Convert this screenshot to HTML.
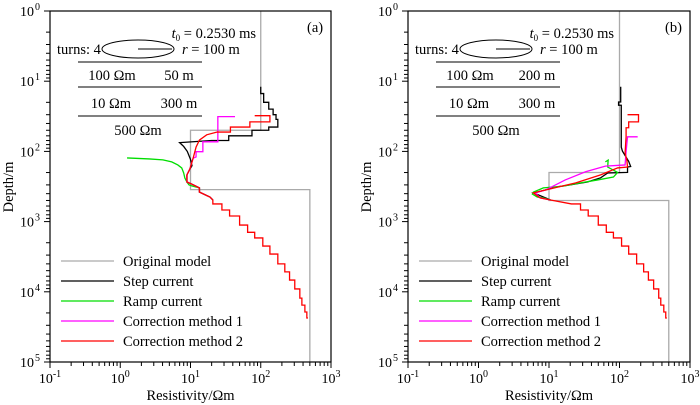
<!DOCTYPE html>
<html><head><meta charset="utf-8">
<style>
html,body{margin:0;padding:0;background:#fff;}
svg{display:block;font-family:"Liberation Serif",serif;}
</style></head>
<body>
<svg id="chart" width="700" height="405" viewBox="0 0 700 405" xmlns="http://www.w3.org/2000/svg"></svg>
<script>
// ---- data (rho in Ωm, depth in m) ----
const xTickLabels = ["-1","0","1","2","3"];
const yTickLabels = ["0","1","2","3","4","5"];
const legendLabels = ["Original model","Step current","Ramp current","Correction method 1","Correction method 2"];
const seriesColors = ["#aaaaaa","#000000","#00dd00","#ff00ff","#ff0000"];

const lowerRho   = [20.8,28,28,36,36,50,50,65,65,82,82,107,107,135,135,175,175,220,220,257,257,305,305,360,360,385,385,425,425,453,453,470];
const lowerDepth = [560,560,684,684,832,832,1120,1120,1420,1420,1710,1710,2230,2230,2900,2900,4000,4000,5200,5200,6800,6800,9100,9100,12300,12300,15500,15500,19400,19400,23600,23600];

// panel a
const aOrigRho   = [100,100,10,10,500,500];
const aOrigDepth = [1,50,50,350,350,100000];
const aStepRho   = [100,100,110,110,130,130,150,150,165,165,175,175,130,130,75,75,35,35,20,7,8,9,10,10.5,9.8,8.9,8.9,10.4,13.4,13.4,18.9,20.8];
const aStepDepth = [12,15,15,20,20,25,25,30,30,35,35,45,45,50,50,60,60,70,70,75,85,100,130,160,178,216,273,292,331,380,446,492];
const aRampRho   = [1.25,2.6,4.05,5.4,6.6,7.5,8.0,8.3,8.9,9.5,10.4,13.4,13.4,18.9,20.8];
const aRampDepth = [124,128,132,141,156,172,203,239,273,300,310,331,380,446,492];
const aCor1Rho   = [43,24.5,24.5,15,15,12,12,10.9,9.8,8.9,8.9,10.4,13.4,13.4,18.9,20.8];
const aCor1Depth = [32,32,73,73,101,101,120,125,178,216,273,292,331,380,446,492];
const aCor2Rho   = [82,135,135,70,70,37,37,24,17,13.4,12,10.9,9.8,8.9,8.9,10.4,13.4,13.4,18.9,20.8];
const aCor2Depth = [31,31,38,38,45,45,53,53,58,69,87,125,178,216,273,292,331,380,446,492];

// panel b
const bOrigRho   = [100,100,10,10,500,500];
const bOrigDepth = [1,200,200,500,500,100000];
const bStepRho   = [104,104,97,97,106,106,110,135,144,130,130,68,54,35,20,13,6.8,6,9,10.5];
const bStepDepth = [12,19.8,19.8,22,22,87,99,139,164,167,199,203,238,273,300,320,380,390,460,492];
const bRampRho   = [63,69,68,94,82,49,28,16,8.3,6.0,5.8,6.8,8.3,10.5];
const bRampDepth = [141,133,167,199,232,255,281,312,331,380,405,446,460,492];
const bCor1Rho   = [181,130,124,120,63,33,17,8.9,6.4,7.5,10.5];
const bCor1Depth = [62,62,101,156,162,195,255,355,390,460,492];
const bCor2Rho   = [130,186,186,135,135,124,124,120,127,130,94,54,24,8.9,6,7.5,10.5];
const bCor2Depth = [30,30,38,38,46,46,62,105,133,167,172,216,281,355,390,460,492];

// ---- drawing ----
const NS="http://www.w3.org/2000/svg";
const svg=document.getElementById('chart');
function mk(tag,attrs,parent){const e=document.createElementNS(NS,tag);for(const k in attrs)e.setAttribute(k,attrs[k]);(parent||svg).appendChild(e);return e;}
const TOP=11,BOT=362,XMIN=-1,XMAX=3,YMIN=0,YMAX=5;
const FS=14.5;

function panel(x0,x1,label,series,tableDepth){
  const g=mk('g',{});
  
  
  const xs=v=>x0+(Math.log10(v)-XMIN)/(XMAX-XMIN)*(x1-x0);
  const ys=v=>TOP+(Math.log10(v)-YMIN)/(YMAX-YMIN)*(BOT-TOP);
  const clipId='clip'+label;
  const cp=mk('clipPath',{id:clipId},g);mk('rect',{x:x0,y:TOP,width:x1-x0,height:BOT-TOP},cp);
  const names=['original-model-line','step-current-line','ramp-current-line','correction-method-1-line','correction-method-2-line'];
  series.forEach((s,i)=>{
    let pts=s[0].map((r,j)=>xs(r).toFixed(2)+','+ys(s[1][j]).toFixed(2));
    if(i===4){pts=pts.concat(lowerRho.map((r,j)=>xs(r).toFixed(2)+','+ys(lowerDepth[j]).toFixed(2)));}
    const p=mk('polyline',{points:pts.join(' '),fill:'none',stroke:seriesColors[i],'stroke-width':1.3,'clip-path':'url(#'+clipId+')'},g);
    
    
  });
  const fr=mk('rect',{x:x0,y:TOP,width:x1-x0,height:BOT-TOP,fill:'none',stroke:'#000','stroke-width':1.2},g);
  
  
  for(let d=XMIN;d<=XMAX;d++){
    const X=xs(Math.pow(10,d));
    mk('line',{x1:X,y1:BOT,x2:X,y2:BOT+6,stroke:'#000','stroke-width':1},g);
    const t=mk('text',{x:X,y:BOT+21,'font-size':14,'text-anchor':'middle'},g);
    
    
    t.textContent='10';
    const sp=mk('tspan',{dy:-6,'font-size':10},t);sp.textContent=xTickLabels[d-XMIN];
    if(d<XMAX)for(let m=2;m<=9;m++){const XX=xs(m*Math.pow(10,d));mk('line',{x1:XX,y1:BOT,x2:XX,y2:BOT+4,stroke:'#000','stroke-width':1},g);}
  }
  for(let d=YMIN;d<=YMAX;d++){
    const Y=ys(Math.pow(10,d));
    mk('line',{x1:x0-6,y1:Y,x2:x0,y2:Y,stroke:'#000','stroke-width':1},g);
    const t=mk('text',{x:x0-16,y:Y+5,'font-size':14,'text-anchor':'end'},g);
    
    
    t.textContent='10';
    const sp=mk('tspan',{x:x0-15,dy:-6,'font-size':10,'text-anchor':'start'},t);sp.textContent=yTickLabels[d-YMIN];
    if(d<YMAX)for(let m=2;m<=9;m++){const YY=ys(m*Math.pow(10,d));mk('line',{x1:x0-4,y1:YY,x2:x0,y2:YY,stroke:'#000','stroke-width':1},g);}
  }
  const xt=mk('text',{x:(x0+x1)/2,y:400,'font-size':FS,'text-anchor':'middle'},g);
  
  
  xt.textContent='Resistivity/Ωm';
  const yt=mk('text',{x:0,y:0,'font-size':FS,'text-anchor':'middle',transform:'translate('+(x0-37)+',187) rotate(-90)'},g);
  
  
  yt.textContent='Depth/m';
  const pl=mk('text',{x:x0+257,y:32,'font-size':FS,'text-anchor':'start'},g);
  
  
  pl.textContent='('+label+')';
  const o=x0-50;
  const t0=mk('text',{x:o+256,y:38,'font-size':FS,'text-anchor':'end'},g);
  
  
  const ti=mk('tspan',{'font-style':'italic'},t0);ti.textContent='t';
  const ts=mk('tspan',{'font-size':9,dy:3},t0);ts.textContent='0';
  const tr=mk('tspan',{dy:-3},t0);tr.textContent=' = 0.2530 ms';
  const tu=mk('text',{x:o+57,y:54,'font-size':FS},g);
  
  
  tu.textContent='turns: 4';
  const el=mk('ellipse',{cx:o+138,cy:49,rx:36,ry:9,fill:'none',stroke:'#000','stroke-width':1},g);
  
  
  mk('line',{x1:o+138,y1:49,x2:o+172,y2:49,stroke:'#000','stroke-width':1},g);
  const rr=mk('text',{x:o+182,y:54,'font-size':FS},g);
  
  
  const ri=mk('tspan',{'font-style':'italic'},rr);ri.textContent='r';
  const rt=mk('tspan',{},rr);rt.textContent=' = 100 m';
  [62,87,116].forEach(y=>mk('line',{x1:o+78,y1:y,x2:o+202,y2:y,stroke:'#000','stroke-width':1},g));
  const cells=[[112,80,'100 Ωm'],[179,80,tableDepth],[111,108,'10 Ωm'],[179,108,'300 m'],[138,135,'500 Ωm']];
  cells.forEach(c=>{const t=mk('text',{x:o+c[0],y:c[1],'font-size':FS,'text-anchor':'middle'},g);
    
    
    t.textContent=c[2];});
  legendLabels.forEach((L,i)=>{
    const y=261+i*20;
    const ln=mk('line',{x1:o+61,y1:y,x2:o+114,y2:y,stroke:seriesColors[i],'stroke-width':1.3},g);
    
    
    const t=mk('text',{x:o+123,y:y+5,'font-size':FS},g);
    
    
    t.textContent=L;
  });
}
panel(50,331,'a',[[aOrigRho,aOrigDepth],[aStepRho,aStepDepth],[aRampRho,aRampDepth],[aCor1Rho,aCor1Depth],[aCor2Rho,aCor2Depth]],'50 m');
panel(408,690,'b',[[bOrigRho,bOrigDepth],[bStepRho,bStepDepth],[bRampRho,bRampDepth],[bCor1Rho,bCor1Depth],[bCor2Rho,bCor2Depth]],'200 m');
</script>
</body></html>
